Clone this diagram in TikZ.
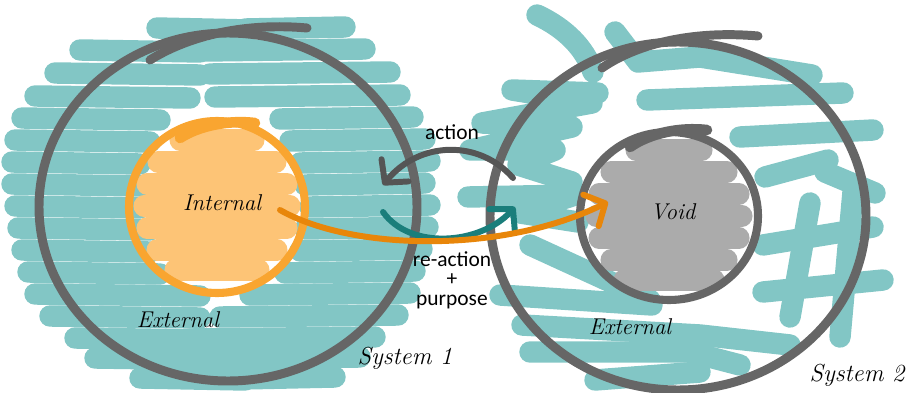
\documentclass[tikz,border=0pt]{standalone}
\usepackage{fontspec}
\newfontfamily\calib{Carlito}
\usetikzlibrary{arrows.meta}
\definecolor{skTeal}{HTML}{82C6C5}
\definecolor{skGrey}{HTML}{666666}
\definecolor{skGreyLt}{HTML}{ABABAB}
\definecolor{skOrange}{HTML}{F9A530}
\definecolor{skOrangeLt}{HTML}{FDC476}
\definecolor{skDark}{HTML}{555555}
\definecolor{skTealDk}{HTML}{1A7E7B}
\definecolor{skAmber}{HTML}{E8860A}
\tikzset{
  scrib/.style    = {skTeal, line width=12.2pt, line cap=round, line join=round},
  ofill/.style    = {skOrangeLt, line width=12pt, line cap=round},
  vfill/.style    = {skGreyLt, line width=12pt, line cap=round},
  ring/.style     = {skGrey, line width=5.1pt, line cap=round},
  oring/.style    = {skOrange, line width=4.6pt, line cap=round},
  barb/.style     = {-{Straight Barb[length=3.2mm, width=7mm, round]},
                     line width=3.4pt, line cap=round},
  hand/.style     = {font=\itshape\fontsize{13}{15}\selectfont},
  lbl/.style      = {font=\calib\fontsize{12.2}{14}\selectfont},
}

\begin{document}
\begin{tikzpicture}[x=0.02cm, y=-0.02cm]
  \useasboundingbox (0,0) rectangle (909,392);
  % system 1: teal scribble
  \foreach \yy/\la/\lb/\ra/\rb in {28/157/250/245/345, 50/80/200/205/365,
      73/55/200/210/390, 96/35/190/215/400, 118/22/160/280/413,
      140/15/150/290/425, 162/12/140/300/430, 184/12/145/305/425,
      206/15/140/310/430, 228/18/150/305/428, 250/22/150/300/422,
      272/28/160/285/415, 294/35/200/250/410, 316/50/200/220/398,
      338/75/200/190/375, 358/95/230/225/360, 378/140/245/240/335}{
    \draw[scrib] (\la,\yy) -- (\lb,\yy+2);
    \draw[scrib] (\ra,\yy+1) -- (\rb,\yy-1);
  }
  % system 2: teal scribble
  \draw[scrib] (537,15) .. controls (565,28) and (585,48) .. (593,72);
  \draw[scrib] (615,32) -- (638,62) -- (700,57) -- (812,75);
  \draw[scrib] (647,100) -- (843,93);
  \draw[scrib] (598,93) -- (512,90) -- (592,103) -- (482,123) -- (572,127)
    -- (470,150) -- (555,150) -- (518,165) -- (572,182);
  \draw[scrib] (468,197) -- (575,195) -- (520,213) -- (578,222);
  \draw[scrib] (530,245) -- (650,300);
  \draw[scrib] (500,295) -- (652,305);
  \draw[scrib] (522,325) -- (700,335) -- (790,345);
  \draw[scrib] (530,352) -- (690,352) -- (740,365);
  \draw[scrib] (595,380) -- (700,372);
  \draw[scrib] (740,137) -- (873,130);
  \draw[scrib] (765,177) -- (828,160);
  \draw[scrib] (825,172) -- (875,193);
  \draw[scrib] (810,203) -- (790,317);
  \draw[scrib] (853,192) -- (840,337);
  \draw[scrib] (763,245) -- (873,227);
  \draw[scrib] (763,292) -- (883,280);
  % internal and void fills
  \foreach \yy/\xa/\xb in {140/180/254, 162/158/276, 184/147/287,
      206/144/290, 228/147/287, 250/157/277, 270/175/259}
    \draw[ofill] (\xa,\yy) -- (\xb,\yy);
  \foreach \yy/\xa/\xb in {150/636/702, 172/611/727, 194/599/739,
      216/596/742, 238/599/739, 260/611/727, 280/624/714}
    \draw[vfill] (\xa,\yy) -- (\xb,\yy);
  % rings
  \draw[ring] (228,207) ellipse [x radius=189, y radius=174];
  \draw[ring] (150,60) .. controls (185,38) and (240,22) .. (307,28);
  \draw[ring] (678,216) ellipse [x radius=188, y radius=174];
  \draw[ring] (602,68) .. controls (635,45) and (690,30) .. (758,36);
  \draw[oring] (217,207) ellipse [x radius=88, y radius=86];
  \draw[oring, line width=6pt] (180,138) .. controls (200,125) and (230,120) .. (255,123);
  \draw[ring, line width=4.6pt] (669,216) ellipse [x radius=89, y radius=84];
  \draw[ring, line width=6pt] (630,147) .. controls (650,133) and (680,127) .. (707,130);
  % labels
  \node[hand] (internal) at (222,203) {Internal};
  \node[hand] (ext1) at (178,320) {External};
  \node[hand, font=\itshape\fontsize{14}{16}\selectfont] (sys1) at (405,358) {System 1};
  \node[hand] (void) at (673,212) {Void};
  \node[hand] (ext2) at (630,327) {External};
  \node[hand, font=\itshape\fontsize{14}{16}\selectfont] (sys2) at (857,375) {System 2};
  \node[lbl] (action) at (452,132) {action};
  \node[lbl, align=center] (reaction) at (452,280) {re-action\\[-3pt]+\\[-3pt]purpose};
  % arrows
  \coordinate (act-a) at (513,178);
  \coordinate (act-b) at (383,185);
  \coordinate (rea-a) at (383,212);
  \coordinate (rea-b) at (515,207);
  \coordinate (pur-a) at (280,210);
  \coordinate (pur-b) at (608,202);
  \draw[barb, skDark] (act-a) .. controls (480,140) and (420,140) .. (act-b);
  \draw[barb, skTealDk] (rea-a) .. controls (410,250) and (480,245) .. (rea-b);
  \draw[barb, skAmber] (pur-a) .. controls (350,250) and (500,255) .. (pur-b);
\end{tikzpicture}
\end{document}
